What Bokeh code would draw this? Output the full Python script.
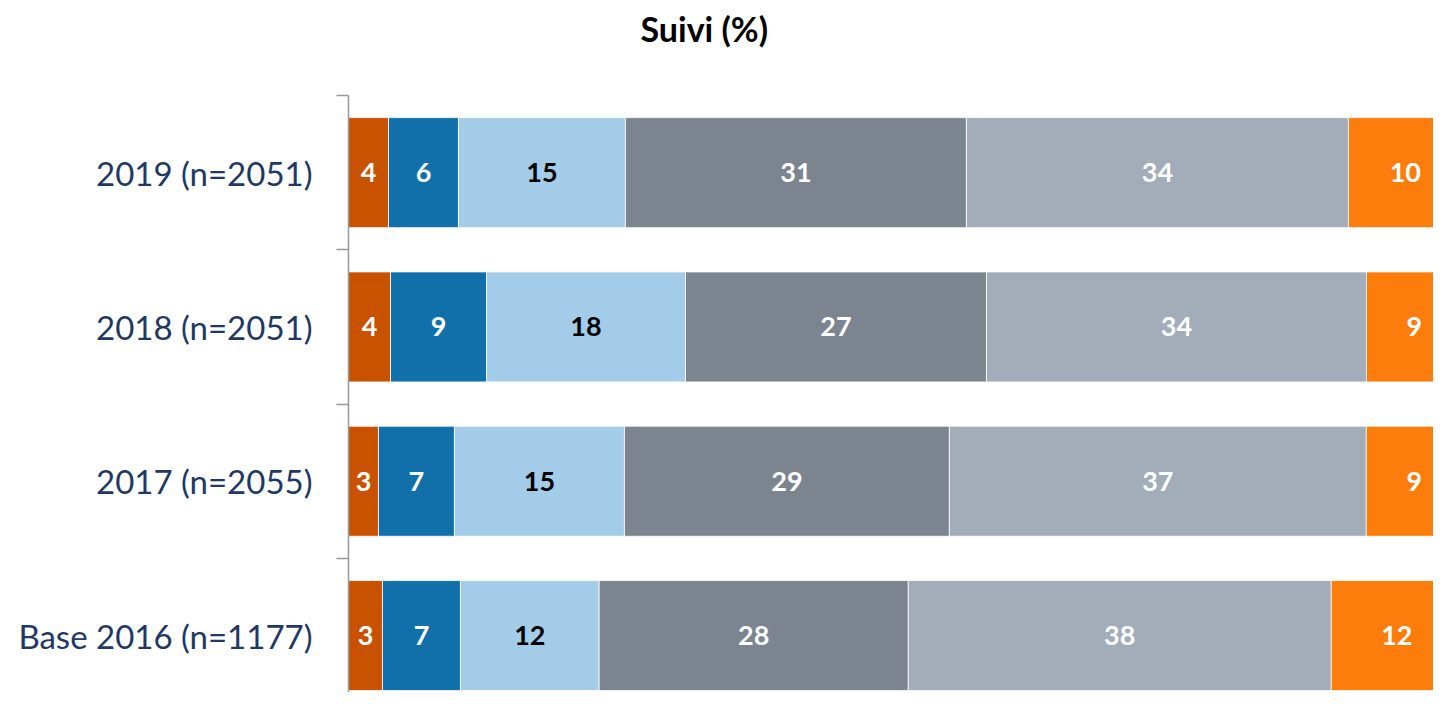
from bokeh.plotting import figure
from bokeh.models import ColumnDataSource, FixedTicker, Range1d
from bokeh.core.properties import value
from bokeh.embed import file_html
from bokeh.resources import INLINE

# ---- data (top row first) ----
rows = ["2019 (n=2051)", "2018 (n=2051)", "2017 (n=2055)", "Base 2016 (n=1177)"]
seg1 = [3.59, 3.77, 2.69, 3.05]
seg2 = [6.28, 8.62, 6.82, 7.00]
seg3 = [14.99, 17.86, 15.26, 12.45]
seg4 = [30.61, 27.02, 29.17, 27.75]
seg5 = [34.29, 34.11, 37.43, 37.97]
seg6 = [10.23, 8.62, 8.62, 11.78]
series = [seg1, seg2, seg3, seg4, seg5, seg6]
colors = ["#c85200", "#1170aa", "#a3cce9", "#7b848f", "#a3acb9", "#fc7d0b"]
label_colors = ["white", "white", "black", "white", "white", "white"]

n = len(rows)
ypos = [n - 1 - i for i in range(n)]  # 2019 at top

p = figure(width=1433, height=692, output_backend="svg", toolbar_location=None,
           x_range=Range1d(0, 97.4), y_range=Range1d(-0.369, n - 0.5 + 0.272),
           min_border_left=348, min_border_right=0, min_border_top=50,
           min_border_bottom=0)
p.outline_line_color = None
p.xgrid.visible = False
p.ygrid.visible = False
p.xaxis.visible = False

left = [0.0] * n
for vals, col, lcol in zip(series, colors, label_colors):
    right = [l + v for l, v in zip(left, vals)]
    mid = [(l + r) / 2 for l, r in zip(left, right)]
    src = ColumnDataSource(dict(y=ypos, left=left, right=right, mid=mid,
                                lab=[str(int(round(v))) for v in vals]))
    p.hbar(y="y", left="left", right="right", height=0.713, source=src,
           fill_color=col, line_color="white", line_width=0.8)
    p.text(x="mid", y="y", text="lab", source=src, text_align="center",
           text_baseline="middle", text_color=lcol, text_font=value("Lato"),
           text_font_style="bold", text_font_size="27px")
    left = right

ax = p.yaxis[0]
ax.ticker = FixedTicker(ticks=ypos, minor_ticks=[i - 0.5 for i in range(n + 1)])
ax.bounds = (-1, n - 0.5)
ax.major_label_overrides = {y: r for y, r in zip(ypos, rows)}
ax.major_tick_out = 0
ax.major_tick_in = 0
ax.minor_tick_out = 12
ax.minor_tick_in = 0
ax.minor_tick_line_color = "#999999"
ax.minor_tick_line_width = 1.5
ax.axis_line_color = "#999999"
ax.axis_line_width = 1.5
ax.major_label_standoff = 24
ax.major_label_text_font = "Lato"
ax.major_label_text_font_size = "33px"
ax.major_label_text_color = "#1f3864"

p.title.text = "Suivi (%)"
p.title.text_font = "Lato"
p.title.text_font_style = "bold"
p.title.text_font_size = "34px"
p.title.text_color = "black"
p.title.align = "left"
p.title.offset = 292

open("out.html", "w").write(file_html(p, INLINE))
